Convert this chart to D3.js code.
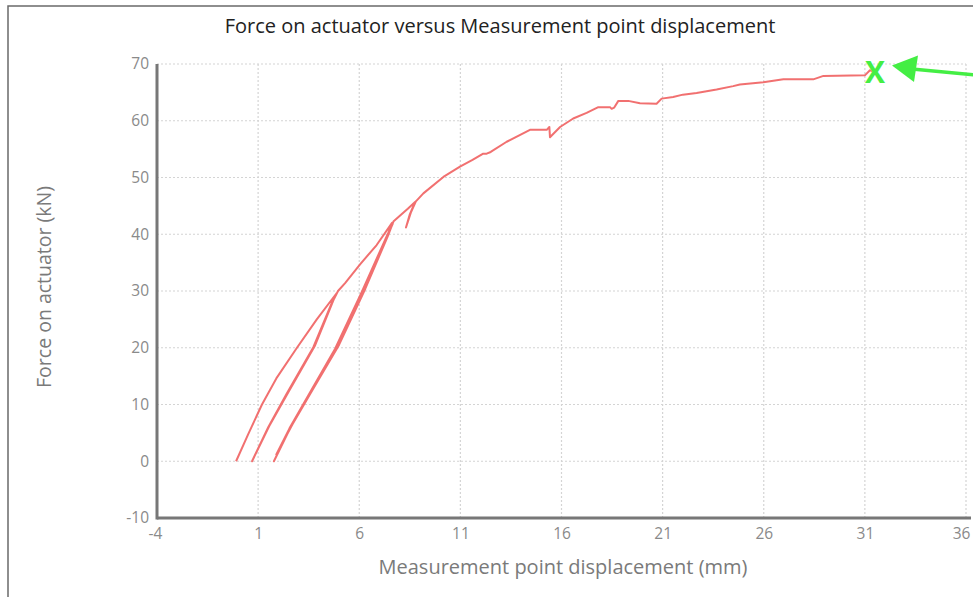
<!DOCTYPE html>
<html>
<head>
<meta charset="utf-8">
<script src="https://cdn.jsdelivr.net/npm/d3@7"></script>
<style>
  html, body { margin: 0; padding: 0; background: #fff; }
  svg { display: block; font-family: "Open Sans", "Noto Sans", sans-serif; }
</style>
</head>
<body>
<svg id="chart" width="973" height="597"></svg>
<script>
// ---- data ----
const titleText = "Force on actuator versus Measurement point displacement";
const xLabel = "Measurement point displacement (mm)";
const yLabel = "Force on actuator (kN)";
const xTicks = [-4, 1, 6, 11, 16, 21, 26, 31, 36];
const yTicks = [-10, 0, 10, 20, 30, 40, 50, 60, 70];
// displacement (mm)
const displacement = [
  -0.09, 0.50, 1.19, 1.90, 2.92, 3.90, 4.88,
  4.70, 3.73, 2.41, 1.50, 0.70,
  1.55, 2.50, 3.80, 4.75, 4.95,
  5.30, 6.04, 6.86, 7.62,
  7.36, 6.19, 4.88, 3.56, 2.60, 1.78,
  2.65, 3.62, 4.95, 6.25, 7.40, 7.65,
  7.30, 6.12, 4.80, 3.50, 2.55, 1.90,
  2.70, 3.68, 5.00, 6.30, 7.45, 7.70,
  8.05, 8.40, 8.76,
  8.50, 8.31,
  8.55, 8.80,
  9.17, 10.16, 10.98, 11.60, 12.13, 12.30, 12.50, 13.29, 14.44, 15.27, 15.40, 15.43,
  15.93, 16.58, 17.24, 17.82, 18.40, 18.48, 18.60, 18.81, 19.30, 19.88, 20.70, 20.95,
  21.52, 22.00, 22.68, 23.67, 24.49, 24.82, 25.98, 26.97, 28.45, 28.95, 31.00, 31.25, 31.40
];
// force (kN)
const force = [
  0.0, 4.7, 10.0, 14.6, 20.0, 25.0, 29.6,
  28.4, 20.1, 11.9, 6.0, 0.0,
  6.2, 12.2, 20.3, 28.6, 30.0,
  31.4, 34.7, 38.1, 42.0,
  39.5, 30.1, 20.1, 12.0, 6.0, 0.0,
  6.3, 12.3, 20.4, 30.3, 39.8, 41.8,
  39.2, 29.8, 19.8, 11.7, 5.8, 1.2,
  6.5, 12.5, 20.5, 30.4, 40.0, 42.3,
  43.4, 44.5, 45.7,
  43.5, 41.2,
  43.8, 45.8,
  47.2, 50.1, 51.9, 53.1, 54.2, 54.2, 54.5, 56.3, 58.4, 58.4, 58.9, 57.1,
  58.9, 60.4, 61.4, 62.4, 62.4, 62.1, 62.3, 63.5, 63.5, 63.1, 63.0, 63.9,
  64.2, 64.6, 64.9, 65.5, 66.1, 66.4, 66.8, 67.3, 67.3, 67.9, 68.0, 68.9, 68.7
];
const markerPoint = [31.5, 68.6];

// ---- drawing ----
const svg = d3.select("#chart");
const x = d3.scaleLinear().domain([-4, 36]).range([157, 966]);
const y = d3.scaleLinear().domain([-10, 70]).range([518, 64]);

// outer frame
svg.append("rect").attr("x", 8).attr("y", 6).attr("width", 1000).attr("height", 700)
  .attr("fill", "none").attr("stroke", "#6a6a6a").attr("stroke-width", 1.5);

// grid
const grid = svg.append("g");
grid.selectAll("line.v").data(xTicks.slice(1)).join("line")
  .attr("x1", d => x(d)).attr("x2", d => x(d))
  .attr("y1", y(70)).attr("y2", y(-10))
  .attr("stroke", "#d4d4d4").attr("stroke-width", 1.2).attr("stroke-dasharray", "2,2");
grid.selectAll("line.h").data(yTicks.slice(1)).join("line")
  .attr("x1", x(-4)).attr("x2", x(36))
  .attr("y1", d => y(d)).attr("y2", d => y(d))
  .attr("stroke", "#d4d4d4").attr("stroke-width", 1.2).attr("stroke-dasharray", "2,2");

// axes
const fmt = d => String(d);
const xAxis = d3.axisBottom(x).tickValues(xTicks).tickFormat(fmt).tickSize(0).tickPadding(10);
const yAxis = d3.axisLeft(y).tickValues(yTicks).tickFormat(fmt).tickSize(0).tickPadding(8);
const gx = svg.append("g").attr("transform", `translate(0,${y(-10)})`).call(xAxis);
const gy = svg.append("g").attr("transform", `translate(${x(-4)},0)`).call(yAxis);
[gx, gy].forEach(g => {
  g.select(".domain").remove();
  g.selectAll("text").attr("fill", "#8a8a8a").style("font-size", "15.5px")
    .style("font-family", '"Open Sans", sans-serif');
});
gx.selectAll(".tick").filter(d => d === 36).select("text").attr("dx", -5);
gx.selectAll(".tick").filter(d => d === -4).select("text").attr("dx", -2);
svg.append("line").attr("x1", x(-4)).attr("x2", 971).attr("y1", y(-10)).attr("y2", y(-10))
  .attr("stroke", "#777").attr("stroke-width", 3);
svg.append("line").attr("x1", x(-4)).attr("x2", x(-4)).attr("y1", y(70)).attr("y2", y(-10) + 1.5)
  .attr("stroke", "#777").attr("stroke-width", 3);

// data line
const pts = displacement.map((d, i) => [d, force[i]]);
svg.append("path").datum(pts)
  .attr("d", d3.line().x(d => x(d[0])).y(d => y(d[1])))
  .attr("fill", "none").attr("stroke", "#f06868").attr("stroke-width", 2)
  .attr("stroke-linejoin", "round").attr("stroke-opacity", 0.95);

// titles
svg.append("text").attr("x", 500).attr("y", 33).attr("text-anchor", "middle")
  .attr("fill", "#222").style("font-size", "20px").text(titleText);
svg.append("text").attr("x", 563).attr("y", 574).attr("text-anchor", "middle")
  .attr("fill", "#7a7a7a").style("font-size", "20px").text(xLabel);
svg.append("text").attr("transform", "translate(51,287) rotate(-90)").attr("text-anchor", "middle")
  .attr("fill", "#7a7a7a").style("font-size", "19.5px").text(yLabel);

// green marker + arrow
svg.append("text").attr("x", x(markerPoint[0])).attr("y", y(markerPoint[1]) + 11)
  .attr("text-anchor", "middle").attr("fill", "#44ee44")
  .style("font-size", "30px").style("font-weight", "bold").text("X");
svg.append("line").attr("x1", 912).attr("y1", 69).attr("x2", 975).attr("y2", 75)
  .attr("stroke", "#44ee44").attr("stroke-width", 3.5);
svg.append("path").attr("d", "M892,65.5 L918,55.5 L914,82 Z").attr("fill", "#44ee44");
</script>
</body>
</html>
